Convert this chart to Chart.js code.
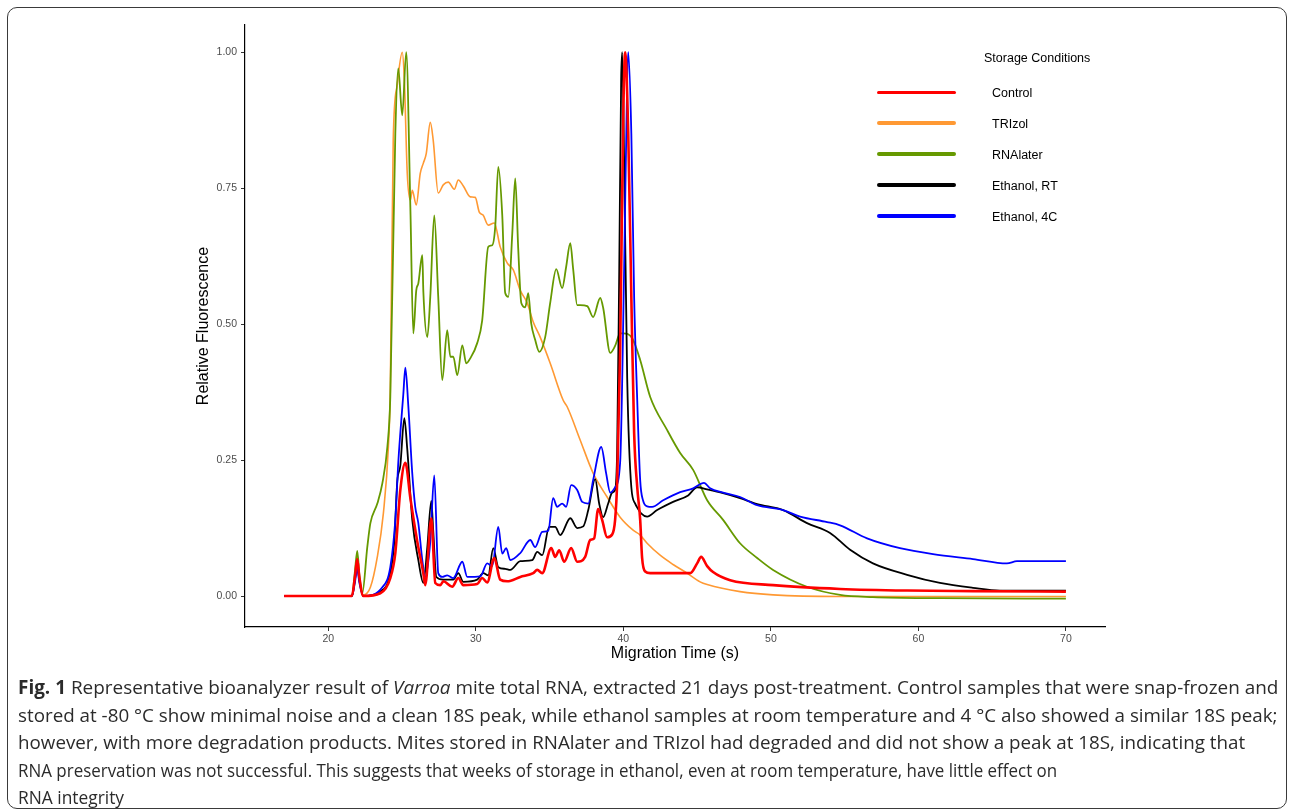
<!DOCTYPE html>
<html>
<head>
<meta charset="utf-8">
<script src="https://cdn.jsdelivr.net/npm/chart.js@4.4.1/dist/chart.umd.min.js"></script>
<style>
  html, body { margin: 0; padding: 0; background: #fff; }
  body { width: 1290px; height: 812px; position: relative; overflow: hidden; font-family: "Liberation Sans", Arial, sans-serif; }
  #frame { position: absolute; left: 7px; top: 7px; width: 1280px; height: 802px; border: 1.5px solid #3a3a3a; border-radius: 10px; box-sizing: border-box; }
  #plot { position: absolute; left: 0; top: 0; }
  .leg-title { position: absolute; left: 984px; top: 51px; font-size: 12.5px; color: #000; white-space: nowrap; }
  .leg-line { position: absolute; left: 877px; width: 79px; height: 3.5px; border-radius: 2px; }
  .leg-label { position: absolute; left: 992px; font-size: 12.5px; color: #000; white-space: nowrap; line-height: 14px; }
  #caption { position: absolute; left: 18px; top: 674px; font-family: "Open Sans", sans-serif; font-size: 19px; color: #2b2b2b; }
  #caption div { white-space: nowrap; width: max-content; transform-origin: 0 0; height: 27.5px; line-height: 27.5px; }
</style>
</head>
<body>
<div id="frame"></div>
<canvas id="plot" width="1290" height="680"></canvas>
<div id="legend"></div>
<div id="caption">
  <div data-w="1260"><b>Fig. 1</b> Representative bioanalyzer result of <i>Varroa</i> mite total RNA, extracted 21 days post-treatment. Control samples that were snap-frozen and</div>
  <div data-w="1259">stored at -80 °C show minimal noise and a clean 18S peak, while ethanol samples at room temperature and 4 °C also showed a similar 18S peak;</div>
  <div data-w="1227">however, with more degradation products. Mites stored in RNAlater and TRIzol had degraded and did not show a peak at 18S, indicating that</div>
  <div data-w="1039">RNA preservation was not successful. This suggests that weeks of storage in ethanol, even at room temperature, have little effect on</div>
  <div data-w="106">RNA integrity</div>
</div>
<script>
// migration time (s), relative fluorescence
const control = [[17,0],[21.6,0],[21.8,0.035],[21.96,0.068],[22.1,0.035],[22.37,0],[23.52,0.005],[24.2,0.033],[24.54,0.079],[24.88,0.195],[25.22,0.245],[25.56,0.18],[26.03,0.10],[26.44,0.042],[26.57,0.02],[26.98,0.143],[27.25,0.024],[27.59,0.02],[27.79,0.027],[28.4,0.017],[28.81,0.033],[29.15,0.02],[30.09,0.022],[30.43,0.033],[30.77,0.025],[31.25,0.07],[31.65,0.03],[32.13,0.027],[33.01,0.035],[33.89,0.042],[34.16,0.048],[34.5,0.042],[35.11,0.088],[35.38,0.072],[35.65,0.084],[35.99,0.063],[36.46,0.088],[36.87,0.063],[37.41,0.072],[37.75,0.103],[38.02,0.106],[38.29,0.16],[38.56,0.14],[38.9,0.108],[39.24,0.113],[39.44,0.14],[39.58,0.21],[39.78,0.45],[39.99,0.88],[40.12,1.0],[40.33,0.85],[40.54,0.55],[40.73,0.3],[40.94,0.2],[41.14,0.14],[41.27,0.07],[41.48,0.045],[41.82,0.042],[44.53,0.042],[45.0,0.06],[45.27,0.072],[45.68,0.055],[46.08,0.044],[47.24,0.029],[50.15,0.02],[54.69,0.013],[59.23,0.01],[63.7,0.009],[70,0.008]];
const trizol = [[17,0],[21.6,0],[21.8,0.03],[21.96,0.056],[22.1,0.03],[22.37,0.002],[22.85,0.016],[23.32,0.072],[23.73,0.152],[24.07,0.274],[24.2,0.38],[24.4,0.84],[24.67,0.94],[25.01,1.0],[25.15,0.95],[25.35,0.777],[25.56,0.728],[25.69,0.746],[25.96,0.719],[26.23,0.777],[26.44,0.796],[26.64,0.814],[26.91,0.871],[27.11,0.838],[27.45,0.741],[27.79,0.756],[28.13,0.761],[28.54,0.748],[28.81,0.765],[29.15,0.754],[29.62,0.734],[29.96,0.733],[30.23,0.706],[30.5,0.70],[30.84,0.682],[31.25,0.686],[31.65,0.642],[32.13,0.612],[32.53,0.6],[33.01,0.562],[33.48,0.539],[33.89,0.504],[34.36,0.476],[35.04,0.428],[35.92,0.36],[36.19,0.348],[37.07,0.287],[37.95,0.226],[38.9,0.182],[39.78,0.145],[40.66,0.121],[41.14,0.112],[41.61,0.097],[42.49,0.075],[43.37,0.058],[44.32,0.042],[45.2,0.026],[45.68,0.021],[47.91,0.008],[50.15,0.002],[54.69,-0.001],[70,-0.001]];
const rnalater = [[17,0],[21.6,0],[21.8,0.045],[21.96,0.083],[22.1,0.04],[22.3,0.005],[22.64,0.09],[22.85,0.134],[23.32,0.17],[23.66,0.207],[24.0,0.274],[24.2,0.366],[24.54,0.85],[24.74,0.97],[25.01,0.884],[25.28,1.0],[25.56,0.715],[25.76,0.483],[25.96,0.562],[26.1,0.575],[26.37,0.627],[26.44,0.56],[26.71,0.476],[26.91,0.55],[27.18,0.70],[27.45,0.55],[27.72,0.397],[28.06,0.489],[28.27,0.44],[28.47,0.44],[28.74,0.406],[29.08,0.461],[29.35,0.428],[29.62,0.437],[30.09,0.465],[30.43,0.507],[30.84,0.642],[31.11,0.645],[31.31,0.678],[31.52,0.789],[31.79,0.70],[31.99,0.557],[32.2,0.55],[32.47,0.667],[32.67,0.768],[32.87,0.64],[33.08,0.539],[33.35,0.531],[33.55,0.557],[33.75,0.502],[34.02,0.471],[34.3,0.449],[34.7,0.476],[35.04,0.539],[35.45,0.601],[35.85,0.566],[36.12,0.605],[36.4,0.649],[36.6,0.6],[36.87,0.535],[37.07,0.535],[37.55,0.533],[37.95,0.513],[38.43,0.548],[38.63,0.53],[39.11,0.447],[39.44,0.46],[39.78,0.483],[40.0,0.483],[40.6,0.474],[41.14,0.434],[41.82,0.366],[42.97,0.305],[43.85,0.263],[44.73,0.232],[45.68,0.176],[46.76,0.14],[47.91,0.097],[49.07,0.07],[50.15,0.048],[52.45,0.017],[54.69,0.002],[56.92,-0.002],[61.46,-0.004],[70,-0.005]];
const ethanolRT = [[17,0],[21.6,0],[21.8,0.03],[21.96,0.06],[22.1,0.03],[22.37,0],[23.52,0.008],[24.2,0.042],[24.47,0.10],[24.67,0.21],[24.88,0.24],[25.15,0.327],[25.35,0.27],[25.69,0.14],[26.1,0.066],[26.44,0.024],[26.71,0.09],[26.98,0.175],[27.11,0.12],[27.32,0.035],[27.79,0.03],[28.47,0.03],[28.81,0.042],[29.15,0.026],[30.09,0.03],[30.5,0.042],[30.84,0.038],[31.18,0.088],[31.52,0.053],[31.99,0.05],[32.33,0.048],[33.01,0.064],[33.82,0.066],[34.16,0.081],[34.5,0.075],[34.97,0.127],[35.38,0.127],[35.72,0.112],[36.4,0.143],[36.87,0.125],[37.28,0.128],[37.62,0.158],[38.09,0.215],[38.36,0.17],[38.63,0.145],[38.97,0.17],[39.24,0.19],[39.44,0.195],[39.58,0.27],[39.72,0.6],[39.85,0.95],[39.92,1.0],[40.05,0.8],[40.26,0.4],[40.54,0.2],[40.8,0.17],[41.0,0.16],[41.2,0.152],[41.61,0.146],[42.29,0.158],[43.37,0.173],[44.39,0.185],[45.0,0.2],[45.68,0.196],[46.76,0.189],[47.91,0.18],[49.07,0.169],[50.83,0.158],[52.45,0.134],[54.01,0.116],[55.37,0.085],[56.92,0.06],[59.23,0.039],[61.46,0.024],[63.7,0.015],[65.53,0.01],[70,0.01]];
const ethanol4C = [[17,0],[21.6,0],[21.8,0.025],[21.96,0.05],[22.1,0.025],[22.37,0],[23.66,0.016],[24.2,0.053],[24.54,0.14],[24.74,0.245],[24.88,0.3],[25.08,0.37],[25.22,0.42],[25.42,0.35],[25.69,0.225],[25.89,0.164],[26.1,0.134],[26.37,0.066],[26.57,0.035],[26.91,0.1],[27.18,0.222],[27.45,0.042],[27.72,0.035],[28.06,0.038],[28.47,0.033],[29.08,0.063],[29.42,0.035],[30.3,0.036],[30.77,0.06],[31.11,0.055],[31.52,0.127],[31.79,0.078],[32.06,0.088],[32.33,0.066],[33.01,0.079],[33.69,0.103],[34.02,0.09],[34.5,0.118],[34.91,0.12],[35.24,0.18],[35.51,0.164],[35.85,0.17],[36.12,0.164],[36.46,0.204],[36.87,0.195],[37.21,0.173],[37.62,0.17],[37.95,0.213],[38.5,0.274],[38.83,0.226],[39.11,0.19],[39.44,0.2],[39.78,0.245],[40.05,0.6],[40.26,0.95],[40.33,1.0],[40.54,0.85],[40.73,0.55],[40.94,0.36],[41.14,0.213],[41.34,0.175],[41.61,0.165],[41.95,0.164],[42.7,0.176],[43.85,0.191],[44.73,0.198],[45.47,0.208],[45.88,0.198],[46.76,0.19],[47.91,0.182],[49.07,0.167],[50.83,0.158],[51.98,0.146],[53.81,0.136],[54.69,0.13],[56.52,0.106],[58.75,0.088],[60.99,0.077],[63.7,0.068],[66.0,0.06],[66.68,0.064],[70,0.064]];

const legendNames = ['Control', 'TRIzol', 'RNAlater', 'Ethanol, RT', 'Ethanol, 4C'];
const legendColors = ['#FF0000', '#FF9933', '#669900', '#000000', '#0000FF'];
const xTicks = [20, 30, 40, 50, 60, 70];
const yTicks = [0, 0.25, 0.5, 0.75, 1.0];

function toPoints(arr) {
    return arr.map(p => ({ x: p[0], y: p[1] }));
}

// first dataset ends up on top
const series = [
    { label: 'Control', data: control, color: '#FF0000', width: 2.6 },
    { label: 'Ethanol, 4C', data: ethanol4C, color: '#0000FF', width: 1.8 },
    { label: 'Ethanol, RT', data: ethanolRT, color: '#000000', width: 1.8 },
    { label: 'RNAlater', data: rnalater, color: '#669900', width: 1.8 },
    { label: 'TRIzol', data: trizol, color: '#FF9933', width: 1.6 }
];

const ctx = document.getElementById('plot').getContext('2d');
new Chart(ctx, {
    type: 'line',
    data: {
        datasets: series.map(s => ({
            label: s.label,
            data: toPoints(s.data),
            borderColor: s.color,
            borderWidth: s.width,
            pointRadius: 0,
            fill: false,
            cubicInterpolationMode: 'monotone'
        }))
    },
    options: {
        responsive: false,
        animation: false,
        layout: { padding: { left: 190, right: 185, top: 25, bottom: 11 } },
        plugins: { legend: { display: false }, tooltip: { enabled: false } },
        scales: {
            x: {
                type: 'linear',
                min: 14.35,
                max: 72.65,
                afterBuildTicks: s => { s.ticks = xTicks.map(v => ({ value: v })); },
                afterFit: s => { s.height = 42; },
                grid: { drawOnChartArea: false, tickLength: 4, color: '#333333' },
                border: { display: true, color: '#000000', width: 1.2 },
                ticks: { color: '#4D4D4D', font: { family: 'Liberation Sans', size: 10.5 }, padding: 2, maxRotation: 0, callback: v => v },
                title: { display: true, text: 'Migration Time (s)', color: '#000', font: { family: 'Liberation Sans', size: 16 }, padding: { top: 0, bottom: 6 } }
            },
            y: {
                min: -0.057,
                max: 1.05,
                afterBuildTicks: s => { s.ticks = yTicks.map(v => ({ value: v })); },
                afterFit: s => { s.width = 55; },
                grid: { drawOnChartArea: false, tickLength: 4, color: '#333333' },
                border: { display: true, color: '#000000', width: 1.2 },
                ticks: { color: '#4D4D4D', font: { family: 'Liberation Sans', size: 10.5 }, padding: 4, callback: v => v.toFixed(2) },
                title: { display: true, text: 'Relative Fluorescence', color: '#000', font: { family: 'Liberation Sans', size: 16 }, padding: { top: 4, bottom: 0 } }
            }
        }
    }
});

// legend inside the panel, like the original
const legend = document.getElementById('legend');
let html = '<div class="leg-title">Storage Conditions</div>';
legendNames.forEach((name, i) => {
    const y = 92.3 + i * 30.9;
    html += '<div class="leg-line" style="top:' + (y - 1.75) + 'px;background:' + legendColors[i] + '"></div>';
    html += '<div class="leg-label" style="top:' + (y - 6) + 'px">' + name + '</div>';
});
legend.innerHTML = html;

// caption: fit each line to the width it has in the original
document.querySelectorAll('#caption div').forEach(d => {
    const target = +d.dataset.w;
    const w = d.scrollWidth;
    if (target && w) d.style.transform = 'scaleX(' + (target / w) + ')';
});
</script>
</body>
</html>
